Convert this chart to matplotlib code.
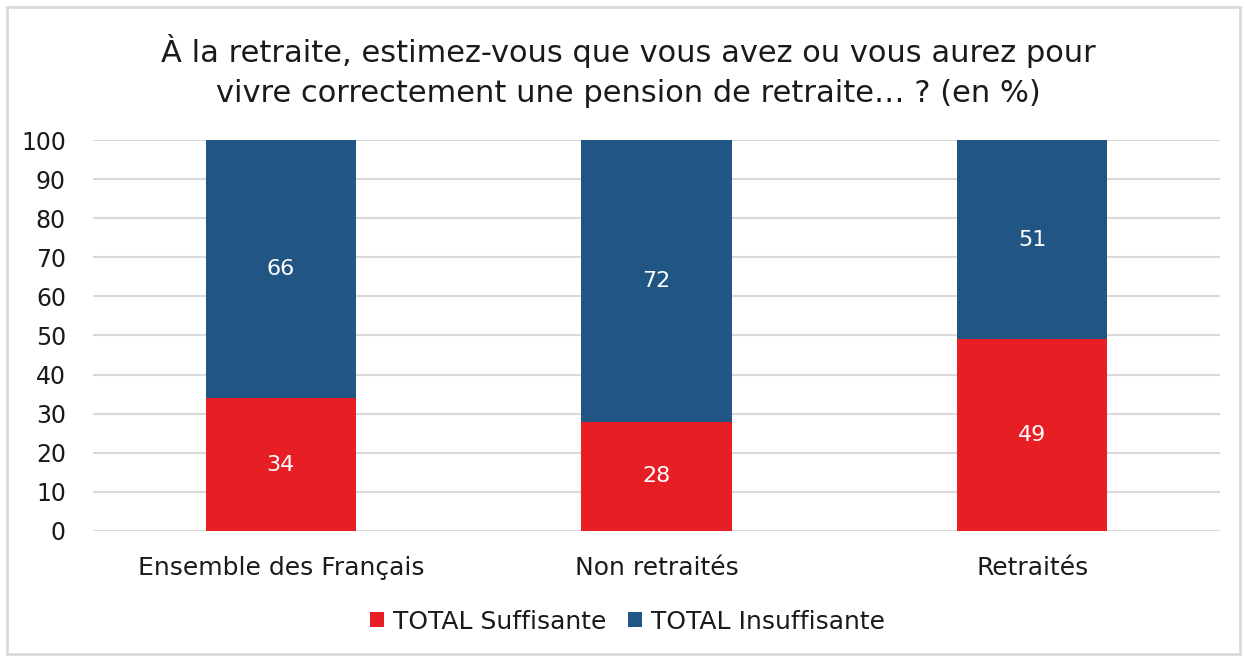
import numpy as np
import matplotlib.pyplot as plt
from matplotlib.patches import Rectangle

plt.rcParams['font.family'] = ['DejaVu Sans']

categories = ["Ensemble des Français", "Non retraités", "Retraités"]
suffisante = [34, 28, 49]
insuffisante = [66, 72, 51]
series_names = ["TOTAL Suffisante", "TOTAL Insuffisante"]

red = "#E81E25"
blue = "#215684"
grid_col = "#D9D9D9"
txt = "#1a1a1a"

fig = plt.figure(figsize=(12.45, 6.57), dpi=100)
ax = fig.add_axes([0.0747, 0.1918, 0.9053, 0.5951])

x = np.arange(len(categories))
w = 0.4
b1 = ax.bar(x, suffisante, w, color=red, label=series_names[0], zorder=3)
b2 = ax.bar(x, insuffisante, w, bottom=suffisante, color=blue, label=series_names[1], zorder=3)

# valeurs au centre de chaque segment
for i in range(len(categories)):
    ax.text(x[i], suffisante[i] / 2, str(suffisante[i]), ha="center", va="center",
            color="white", fontsize=16)
    ax.text(x[i], suffisante[i] + insuffisante[i] / 2, str(insuffisante[i]), ha="center",
            va="center", color="white", fontsize=16)

ax.set_xlim(-0.5, 2.5)
ax.set_ylim(0, 100)
ax.set_yticks(np.arange(0, 101, 10))
ax.set_xticks(x)
ax.set_xticklabels(categories, fontsize=18)
ax.tick_params(axis="both", length=0, labelcolor=txt)
ax.tick_params(axis="y", pad=19.5, labelsize=17)
ax.tick_params(axis="x", pad=18)
for lbl in ax.get_yticklabels():
    lbl.set_horizontalalignment("right")
ax.grid(axis="y", color=grid_col, linewidth=1.5, zorder=0)
for s in ax.spines.values():
    s.set_visible(False)

fig.text(0.505, 0.892, "À la retraite, estimez-vous que vous avez ou vous aurez pour\n"
         "vivre correctement une pension de retraite… ? (en %)",
         ha="center", va="center", fontsize=22, color=txt, linespacing=1.5)

fig.legend(handles=[b1, b2], labels=series_names, loc="center", bbox_to_anchor=(0.504, 0.054),
           ncol=2, frameon=False, fontsize=18, handlelength=0.56, handleheight=0.56,
           handletextpad=0.35, columnspacing=0.9, labelcolor=txt)

fig.patches.append(Rectangle((0.006, 0.004), 0.99, 0.985, transform=fig.transFigure,
                             fill=False, edgecolor=grid_col, linewidth=2))

fig.savefig("out.png", dpi=100)
